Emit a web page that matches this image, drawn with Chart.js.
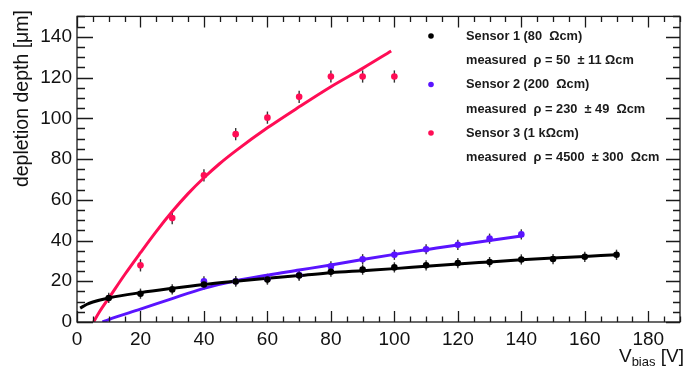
<!DOCTYPE html>
<html>
<head>
<meta charset="utf-8">
<script src="https://cdn.jsdelivr.net/npm/chart.js@4/dist/chart.umd.min.js"></script>
<style>
html,body{margin:0;padding:0;background:#fff;}
#wrap{width:684px;height:372px;position:relative;}
</style>
</head>
<body>
<div id="wrap"><canvas id="c" width="684" height="372"></canvas></div>
<script>
// ---- measured points ----
const s1V = [10,20,30,40,50,60,70,80,90,100,110,120,130,140,150,160,170];
const s1D = [11.8,13.9,16,18.4,19.9,20.8,22.8,24.7,25.7,26.8,27.8,28.9,29.4,30.7,30.9,32,33];
const s1E = [2.5,2.5,2.5,2.5,2.5,2.5,2.5,2.5,2.5,2.5,2.5,2.5,2.5,2.5,2.5,2.5,2.5];

const s2V = [40,50,60,70,80,90,100,110,120,130,140];
const s2D = [20,20,21.2,23,27.3,30.8,33,35.7,37.9,40.9,43];
const s2E = [2.5,2.5,2.5,2.5,2.5,2.5,2.5,2.5,2.5,2.5,2.5];

const s3V = [20,30,40,50,60,70,80,90,100];
const s3D = [27.8,51,72,92.2,100.3,110.5,120.5,120.5,120.5];
const s3E = [3,3,3,3,3,3,3,3,3];

// ---- fit curves ----
const f1V = [1,3,5,10,20,30,40,50,60,70,80,90,100,110,120,130,140,150,160,170];
const f1D = [6.8,8.6,9.8,11.8,14.4,16.5,18.4,20,21.5,22.8,24.2,25.2,26.2,27.4,28.5,29.5,30.5,31.4,32.2,33];
const f2V = [8,10,20,30,40,50,60,70,80,90,100,110,120,130,140];
const f2D = [0,1.2,6.3,11.5,16.5,20.2,23,25.5,28,30.7,33.2,35.5,37.8,40,42.2];
const f3V = [5.2,7,10.4,15,20,25,30,35,40,45,50,60,70,80,90,99];
const f3D = [0,4.8,12.6,23.2,34,44.5,54.2,63,70.8,77.8,84,95.3,105.6,115.5,124.5,133];

// ---- labels ----
const legendTexts = [
  "Sensor 1 (80  \u03A9cm)",
  "measured  \u03C1 = 50  \u00B1 11 \u03A9cm",
  "Sensor 2 (200  \u03A9cm)",
  "measured  \u03C1 = 230  \u00B1 49  \u03A9cm",
  "Sensor 3 (1 k\u03A9cm)",
  "measured  \u03C1 = 4500  \u00B1 300  \u03A9cm"
];
const yTitle = "depletion depth [\u03BCm]";
const xTitleMain = "V";
const xTitleSub = "bias";
const xTitleUnit = " [V]";

const C1 = '#000000', C2 = '#5a14ff', C3 = '#ff0d55';
const FONT = '"Liberation Sans", Arial, sans-serif';

const pts = (v, d) => v.map((x, i) => ({x: x, y: d[i]}));

const errs = [
  {v: s1V, d: s1D, e: s1E},
  {v: s2V, d: s2D, e: s2E},
  {v: s3V, d: s3D, e: s3E}
];

const errorBars = {
  id: 'errorBars',
  beforeDatasetsDraw(chart) {
    const {ctx, scales: {x, y}} = chart;
    ctx.save();
    ctx.strokeStyle = '#333';
    ctx.lineWidth = 1.4;
    errs.forEach(s => {
      s.v.forEach((vv, i) => {
        const px = x.getPixelForValue(vv);
        ctx.beginPath();
        ctx.moveTo(px, y.getPixelForValue(s.d[i] - s.e[i]));
        ctx.lineTo(px, y.getPixelForValue(s.d[i] + s.e[i]));
        ctx.stroke();
      });
    });
    ctx.restore();
  }
};

const frame = {
  id: 'frame',
  afterDraw(chart) {
    const {ctx, chartArea: a, scales: {x, y}} = chart;
    ctx.save();
    ctx.strokeStyle = '#1a1a1a';
    ctx.lineWidth = 1.3;
    ctx.strokeRect(a.left, a.top, a.right - a.left, a.bottom - a.top);
    ctx.beginPath();
    for (let v = 0; v <= 190; v += 5) {
      const px = Math.round(x.getPixelForValue(v)) + 0.5;
      const L = (v % 20 === 0) ? 11 : 5.5;
      ctx.moveTo(px, a.bottom); ctx.lineTo(px, a.bottom - L);
      ctx.moveTo(px, a.top); ctx.lineTo(px, a.top + L);
    }
    for (let v = 0; v <= 150; v += 5) {
      const py = Math.round(y.getPixelForValue(v)) + 0.5;
      const L = (v % 20 === 0) ? 16 : 8;
      const R = (v % 20 === 0) ? 14 : 7;
      ctx.moveTo(a.left, py); ctx.lineTo(a.left + L, py);
      ctx.moveTo(a.right, py); ctx.lineTo(a.right - R, py);
    }
    ctx.stroke();

    // axis titles
    ctx.fillStyle = '#111';
    ctx.textBaseline = 'alphabetic';
    ctx.font = '19px ' + FONT;
    const wUnit = ctx.measureText(xTitleUnit).width;
    const wV = ctx.measureText(xTitleMain).width;
    ctx.font = '13px ' + FONT;
    const wSub = ctx.measureText(xTitleSub).width;
    const xr = 684;
    ctx.textAlign = 'left';
    ctx.font = '19px ' + FONT;
    ctx.fillText(xTitleUnit, xr - wUnit, 362);
    ctx.fillText(xTitleMain, xr - wUnit - wSub - wV, 362);
    ctx.font = '13px ' + FONT;
    ctx.fillText(xTitleSub, xr - wUnit - wSub, 366);
    // y title
    ctx.save();
    ctx.translate(28, 10);
    ctx.rotate(-Math.PI / 2);
    ctx.font = '19.5px ' + FONT;
    ctx.textAlign = 'right';
    ctx.fillText(yTitle, 0, 0);
    ctx.restore();

    // legend
    const cols = [C1, null, C2, null, C3, null];
    const rowsY = [36, 60, 84.5, 109, 133, 157];
    ctx.font = 'bold 12.8px ' + FONT;
    ctx.textAlign = 'left';
    ctx.textBaseline = 'middle';
    legendTexts.forEach((t, i) => {
      if (cols[i]) {
        ctx.fillStyle = cols[i];
        ctx.beginPath();
        ctx.arc(431, rowsY[i], 2.8, 0, Math.PI * 2);
        ctx.fill();
      }
      ctx.fillStyle = '#1a1a1a';
      ctx.fillText(t, 466, rowsY[i]);
    });
    ctx.restore();
  }
};

const lineDs = (v, d, c) => ({
  data: pts(v, d), showLine: true, borderColor: c, borderWidth: 3,
  pointRadius: 0, cubicInterpolationMode: 'monotone', fill: false, order: 2
});
const ptDs = (v, d, c) => ({
  data: pts(v, d), showLine: false, backgroundColor: c, borderColor: c,
  pointRadius: 3.3, pointBorderWidth: 0, order: 1
});

new Chart(document.getElementById('c'), {
  type: 'scatter',
  data: {
    datasets: [
      ptDs(s1V, s1D, C1),
      ptDs(s2V, s2D, C2),
      ptDs(s3V, s3D, C3),
      lineDs(f1V, f1D, C1),
      lineDs(f2V, f2D, C2),
      lineDs(f3V, f3D, C3)
    ]
  },
  options: {
    responsive: false,
    animation: false,
    devicePixelRatio: 1,
    layout: {padding: {top: 11, right: 1, left: 0, bottom: 0}},
    plugins: {legend: {display: false}, tooltip: {enabled: false}},
    scales: {
      x: {
        type: 'linear', min: 0, max: 190,
        grid: {display: false, drawTicks: false},
        border: {display: false},
        ticks: {stepSize: 20, padding: 6, color: '#111', maxRotation: 0, autoSkip: false,
          includeBounds: false,
          font: {size: 19, family: FONT}},
        afterFit: s => { s.height = 50; }
      },
      y: {
        type: 'linear', min: 0, max: 150,
        grid: {display: false, drawTicks: false},
        border: {display: false},
        ticks: {stepSize: 20, padding: 5, color: '#111', autoSkip: false,
          includeBounds: false,
          font: {size: 19, family: FONT}},
        afterFit: s => { s.width = 77; }
      }
    }
  },
  plugins: [errorBars, frame]
});
</script>
</body>
</html>
